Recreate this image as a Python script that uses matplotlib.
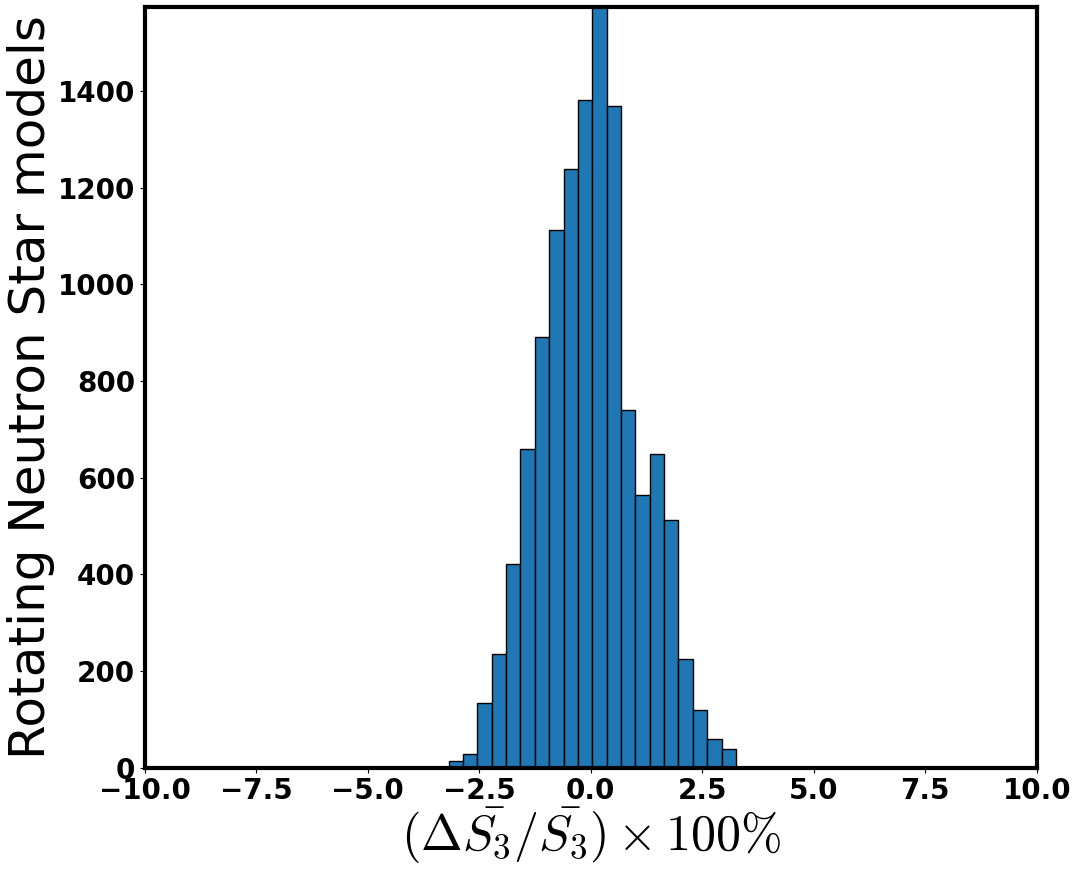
import matplotlib
matplotlib.use("Agg")
import matplotlib.pyplot as plt
import numpy as np

# histogram (20 equal bins)
bin_lo = -3.186
bin_hi = 3.257
counts = [13, 29, 133, 235, 421, 660, 890, 1113, 1239, 1382,
          1574, 1369, 741, 565, 648, 513, 224, 120, 60, 38]

xticks = [-10.0, -7.5, -5.0, -2.5, 0.0, 2.5, 5.0, 7.5, 10.0]

plt.rcParams["mathtext.fontset"] = "cm"

edges = np.linspace(bin_lo, bin_hi, len(counts) + 1)

fig = plt.figure(figsize=(10.78, 8.74), dpi=100)
ax = fig.add_axes([0.1342, 0.1216, 0.8275, 0.8706])
ax.bar(edges[:-1], counts, width=np.diff(edges), align="edge",
       color="#1f77b4", edgecolor="black", linewidth=1.0)

ax.set_xlim(-10, 10)
ax.set_ylim(0, max(counts))
ax.set_xticks(xticks)

for s in ax.spines.values():
    s.set_linewidth(3)

for lab in ax.get_xticklabels() + ax.get_yticklabels():
    lab.set_fontsize(20)
    lab.set_fontweight("bold")

ax.set_xlabel(r"$(\Delta\bar{S_3}/\bar{S_3})\times100\%$", fontsize=36, labelpad=0)
ax.set_ylabel("Rotating Neutron Star models", fontsize=36, labelpad=2)

fig.savefig("out.png", dpi=100)
